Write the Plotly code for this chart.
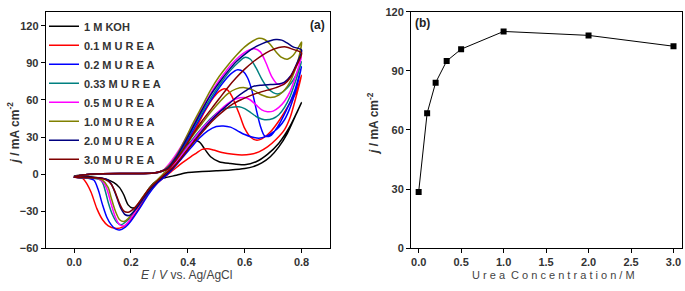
import plotly.graph_objects as go

W, H = 685, 291

labels = ["1 M KOH", "0.1 M U R E A", "0.2 M U R E A", "0.33 M U R E A",
          "0.5 M U R E A", "1.0 M U R E A", "2.0 M U R E A", "3.0 M U R E A"]
colors = ["#000000", "#ff0000", "#0000ff", "#008080",
          "#ff00ff", "#808000", "#000080", "#800000"]

# ---- panel (a): cyclic voltammograms (forward scan, then reverse scan) ----
koh_E_f = [0.00, 0.05, 0.15, 0.25, 0.30, 0.33, 0.36, 0.39, 0.42, 0.44, 0.46, 0.48, 0.51, 0.55, 0.60, 0.64, 0.68, 0.72, 0.76, 0.80]
koh_j_f = [-1.5, -0.3, 0.2, 0.5, 1.5, 5, 13, 22, 27.5, 26, 20, 14, 10, 8.5, 7.5, 10, 16, 25, 39, 58]
koh_E_r = [0.78, 0.75, 0.72, 0.69, 0.66, 0.63, 0.60, 0.55, 0.50, 0.45, 0.40, 0.36, 0.32, 0.29, 0.265, 0.245, 0.225, 0.205, 0.19, 0.175, 0.16, 0.14, 0.11, 0.07, 0.03, 0.00]
koh_j_r = [48, 33, 22, 14, 9, 6, 4.5, 3.3, 2.6, 2, 1.2, -1, -3, -5.5, -11, -19, -26, -27.5, -25, -17, -11, -7, -4, -2.5, -1.8, -1.5]

u01_E_f = [0.00, 0.03, 0.10, 0.20, 0.28, 0.31, 0.34, 0.37, 0.40, 0.43, 0.46, 0.49, 0.51, 0.525, 0.54, 0.555, 0.57, 0.585, 0.60, 0.62, 0.64, 0.66, 0.69, 0.72, 0.75, 0.78, 0.80]
u01_j_f = [-2.5, -0.8, 0.2, 0.4, 0.8, 2.5, 8, 16, 27, 38, 51, 62, 67, 69, 68, 63, 55, 46, 37, 30, 27.5, 28.5, 34, 43, 54, 66, 80]
u01_E_r = [0.78, 0.76, 0.74, 0.71, 0.68, 0.65, 0.62, 0.59, 0.56, 0.52, 0.49, 0.47, 0.45, 0.43, 0.41, 0.38, 0.35, 0.32, 0.29, 0.26, 0.23, 0.20, 0.17, 0.145, 0.12, 0.10, 0.08, 0.06, 0.045, 0.03, 0.00]
u01_j_r = [62, 46, 36, 28, 22, 18, 16, 15.5, 16, 17.5, 19.5, 20.5, 20, 17, 14, 9, 3.5, -2, -8, -16, -27, -37, -43, -44, -42, -37, -28, -15, -8, -3.5, -2.5]

u02_E_f = [0.00, 0.03, 0.10, 0.20, 0.28, 0.31, 0.34, 0.37, 0.40, 0.43, 0.46, 0.49, 0.52, 0.55, 0.575, 0.595, 0.61, 0.625, 0.64, 0.655, 0.67, 0.69, 0.715, 0.745, 0.775, 0.80]
u02_j_f = [-2.5, -0.8, 0.2, 0.4, 0.8, 2.5, 8, 17, 28, 40, 52, 63, 73, 81, 84.5, 83, 78, 68, 53, 39, 31, 31, 38, 51, 67, 87]
u02_E_r = [0.78, 0.76, 0.74, 0.72, 0.70, 0.675, 0.65, 0.625, 0.60, 0.575, 0.55, 0.525, 0.50, 0.47, 0.44, 0.41, 0.38, 0.35, 0.32, 0.29, 0.26, 0.23, 0.20, 0.18, 0.16, 0.145, 0.13, 0.115, 0.10, 0.085, 0.07, 0.05, 0.00]
u02_j_r = [68, 54, 44, 38, 34, 30.5, 29, 30, 32, 35, 38, 39, 38.5, 35, 29, 21, 13, 5, -2, -8, -17, -28, -38, -43, -45.3, -44.5, -41, -35, -25, -13, -5, -3.5, -2.5]

u033_E_f = [0.00, 0.03, 0.10, 0.20, 0.28, 0.31, 0.34, 0.37, 0.40, 0.43, 0.46, 0.49, 0.52, 0.55, 0.58, 0.60, 0.62, 0.64, 0.66, 0.68, 0.70, 0.72, 0.75, 0.78, 0.80]
u033_j_f = [-2.5, -0.8, 0.2, 0.4, 0.8, 2.5, 9, 18, 30, 42, 54, 65, 75, 84, 91, 94.5, 93, 86, 77, 70, 66, 65, 70, 80, 91]
u033_E_r = [0.78, 0.76, 0.74, 0.72, 0.70, 0.67, 0.645, 0.62, 0.60, 0.58, 0.55, 0.52, 0.49, 0.46, 0.43, 0.40, 0.37, 0.34, 0.31, 0.28, 0.25, 0.22, 0.19, 0.165, 0.15, 0.135, 0.12, 0.11, 0.10, 0.09, 0.07, 0.00]
u033_j_r = [76, 63, 54, 48, 45, 44, 46, 50, 53, 54.5, 54, 52, 47, 40, 32, 23, 14, 5, -2, -9, -18, -28, -37, -41, -39, -33, -23, -14, -7, -4.5, -3.5, -2.5]

u05_E_f = [0.00, 0.03, 0.10, 0.20, 0.28, 0.31, 0.34, 0.37, 0.40, 0.43, 0.46, 0.49, 0.52, 0.55, 0.58, 0.61, 0.635, 0.655, 0.675, 0.695, 0.715, 0.74, 0.77, 0.80]
u05_j_f = [-2.5, -0.8, 0.2, 0.4, 0.8, 2.5, 10, 20, 32, 45, 57, 69, 79, 88, 95, 100, 101.5, 99, 90, 79, 73, 74, 82, 95]
u05_E_r = [0.78, 0.76, 0.74, 0.72, 0.70, 0.68, 0.66, 0.64, 0.62, 0.60, 0.57, 0.54, 0.51, 0.48, 0.45, 0.42, 0.39, 0.36, 0.33, 0.30, 0.27, 0.24, 0.21, 0.19, 0.175, 0.16, 0.145, 0.13, 0.115, 0.10, 0.08, 0.00]
u05_j_r = [80, 67, 59, 54, 51, 50.5, 52, 56, 60, 62, 61, 57, 51, 44, 37, 28, 19, 10, 3, -4, -11, -21, -32, -39, -42, -41, -35, -24, -12, -6, -3.5, -2.5]

u10_E_f = [0.00, 0.03, 0.10, 0.20, 0.28, 0.31, 0.33, 0.36, 0.39, 0.42, 0.45, 0.48, 0.51, 0.54, 0.57, 0.60, 0.63, 0.65, 0.67, 0.69, 0.71, 0.73, 0.75, 0.77, 0.79, 0.80]
u10_j_f = [-2.5, -0.8, 0.2, 0.4, 0.8, 2.5, 6, 15, 28, 42, 55, 68, 79, 88, 96, 103, 108, 110, 109, 105, 99, 94.5, 93, 96, 103, 107]
u10_E_r = [0.79, 0.77, 0.75, 0.72, 0.69, 0.66, 0.63, 0.60, 0.57, 0.54, 0.51, 0.48, 0.45, 0.42, 0.39, 0.36, 0.33, 0.30, 0.27, 0.24, 0.21, 0.19, 0.175, 0.16, 0.145, 0.13, 0.12, 0.10, 0.07, 0.00]
u10_j_r = [94, 80, 71, 64, 62, 64, 68, 70, 69, 65, 58, 50, 41, 32, 22, 12, 4, -3, -10, -19, -30, -36, -38.5, -37, -30, -19, -11, -5, -3, -2.5]

u20_E_f = [0.00, 0.03, 0.10, 0.20, 0.28, 0.31, 0.33, 0.36, 0.39, 0.42, 0.45, 0.48, 0.51, 0.54, 0.57, 0.60, 0.63, 0.66, 0.69, 0.71, 0.73, 0.75, 0.77, 0.80]
u20_j_f = [-2.5, -0.8, 0.2, 0.4, 0.8, 2.5, 5, 14, 26, 39, 52, 64, 74, 83, 91, 97, 102, 105.5, 108, 109, 108.5, 106, 103, 100.5]
u20_E_r = [0.78, 0.76, 0.74, 0.72, 0.69, 0.66, 0.63, 0.60, 0.57, 0.54, 0.51, 0.48, 0.45, 0.42, 0.39, 0.36, 0.33, 0.30, 0.27, 0.24, 0.215, 0.195, 0.18, 0.165, 0.15, 0.135, 0.12, 0.09, 0.00]
u20_j_r = [88, 79, 74.5, 73, 72.5, 72, 71, 67, 62, 56, 50, 43, 35, 26, 17, 8, 1, -5, -12, -21, -29, -33.5, -33, -28, -19, -10, -5, -3, -2.5]

u30_E_f = [0.00, 0.03, 0.10, 0.20, 0.28, 0.31, 0.33, 0.36, 0.39, 0.42, 0.45, 0.48, 0.51, 0.54, 0.57, 0.60, 0.63, 0.66, 0.69, 0.72, 0.745, 0.77, 0.80]
u30_j_f = [-2.5, -0.8, 0.2, 0.4, 0.8, 2.5, 4, 12, 22, 33, 43, 52, 61, 70, 78, 85, 91, 96, 100, 102.5, 103, 101, 98]
u30_E_r = [0.78, 0.76, 0.74, 0.71, 0.68, 0.65, 0.62, 0.59, 0.56, 0.53, 0.50, 0.47, 0.44, 0.41, 0.38, 0.35, 0.32, 0.29, 0.26, 0.235, 0.21, 0.19, 0.175, 0.16, 0.145, 0.13, 0.11, 0.08, 0.00]
u30_j_r = [87, 78, 73, 70, 68, 66, 63.5, 60.5, 57, 52, 46, 39, 31, 23, 14, 6, 0, -6, -13, -21, -28, -31, -30, -24, -15, -8, -4.5, -3, -2.5]

cv_E = [koh_E_f + koh_E_r, u01_E_f + u01_E_r, u02_E_f + u02_E_r, u033_E_f + u033_E_r,
        u05_E_f + u05_E_r, u10_E_f + u10_E_r, u20_E_f + u20_E_r, u30_E_f + u30_E_r]
cv_j = [koh_j_f + koh_j_r, u01_j_f + u01_j_r, u02_j_f + u02_j_r, u033_j_f + u033_j_r,
        u05_j_f + u05_j_r, u10_j_f + u10_j_r, u20_j_f + u20_j_r, u30_j_f + u30_j_r]

# ---- panel (b): peak current vs urea concentration ----
conc = [0.0, 0.1, 0.2, 0.33, 0.5, 1.0, 2.0, 3.0]
j_peak = [28.5, 68.5, 84, 95, 101, 110, 108, 102.5]

a_xticks = [0.0, 0.2, 0.4, 0.6, 0.8]
a_yticks = [-60, -30, 0, 30, 60, 90, 120]
b_xticks = [0.0, 0.5, 1.0, 1.5, 2.0, 2.5, 3.0]
b_yticks = [0, 30, 60, 90, 120]

fig = go.Figure()
for name, col, xs, ys in zip(labels, colors, cv_E, cv_j):
    fig.add_trace(go.Scatter(x=xs, y=ys, mode="lines", name="<b>%s</b>" % name,
                             line=dict(color=col, width=1.5, shape="spline", smoothing=0.8),
                             xaxis="x", yaxis="y"))

fig.add_trace(go.Scatter(x=conc, y=j_peak, mode="lines+markers", showlegend=False,
                         line=dict(color="#000000", width=1),
                         marker=dict(symbol="square", size=6, color="#000000"),
                         xaxis="x2", yaxis="y2"))

FONT = "Liberation Sans, Arial, sans-serif"
tickfont = dict(family=FONT, size=11, color="#333333", weight="bold")
ax_common = dict(showline=True, linecolor="#000000", linewidth=1, mirror=True,
                 ticks="outside", ticklen=4, tickwidth=1, tickcolor="#000000",
                 showgrid=False, zeroline=False, tickfont=tickfont,
                 ticklabeloverflow="allow")

ydom = [1 - 252.5 / H, 1 - 6 / H]
fig.update_layout(
    width=W, height=H, autosize=False,
    margin=dict(l=0, r=0, t=0, b=0),
    paper_bgcolor="white", plot_bgcolor="white",
    xaxis=dict(domain=[45.7 / W, 330 / W], range=[-0.1, 0.9], tickvals=a_xticks,
               tickformat=".1f", anchor="y", **ax_common),
    yaxis=dict(domain=ydom, range=[-60, 131.5], tickvals=a_yticks, anchor="x", **ax_common),
    xaxis2=dict(domain=[411 / W, 682 / W], range=[-0.09, 3.1], tickvals=b_xticks,
                tickformat=".1f", anchor="y2", **ax_common),
    yaxis2=dict(domain=ydom, range=[0, 120], tickvals=b_yticks, anchor="x2", **ax_common),
    legend=dict(x=44 / W, y=1 - 6 / H, xanchor="left", yanchor="top",
                bgcolor="rgba(0,0,0,0)", borderwidth=0, tracegroupgap=0,
                itemwidth=30, font=dict(family=FONT, size=11, color="#333333")),
    showlegend=True,
)

ann = [
    dict(text="<b><i>j</i> / mA cm<sup>-2</sup></b>", x=13 / W, y=1 - 133 / H, textangle=-90,
         font=dict(family=FONT, size=12, color="#333333")),
    dict(text="<i>E</i> / <i>V</i> vs. Ag/AgCl", x=186 / W, y=1 - 281 / H,
         font=dict(family=FONT, size=12, color="#444444")),
    dict(text="<b><i>j</i> / mA cm<sup>-2</sup></b>", x=373 / W, y=1 - 123 / H, textangle=-90,
         font=dict(family=FONT, size=12, color="#333333")),
    dict(text="U r e a  C o n c e n t r a t i o n / M", x=553 / W, y=1 - 281 / H,
         font=dict(family=FONT, size=11, color="#444444")),
    dict(text="<b>(a)</b>", x=317 / W, y=1 - 20 / H,
         font=dict(family=FONT, size=12, color="#222222")),
    dict(text="<b>(b)</b>", x=422 / W, y=1 - 18 / H,
         font=dict(family=FONT, size=12, color="#222222")),
]
for a in ann:
    a.update(xref="paper", yref="paper", showarrow=False, xanchor="center", yanchor="middle")
fig.update_layout(annotations=ann)

fig.write_html(
    "out.html",
    config={"displayModeBar": False, "responsive": False},
    post_script="document.body.style.margin='0';document.body.style.padding='0';"
                "document.body.style.overflow='hidden';",
)
